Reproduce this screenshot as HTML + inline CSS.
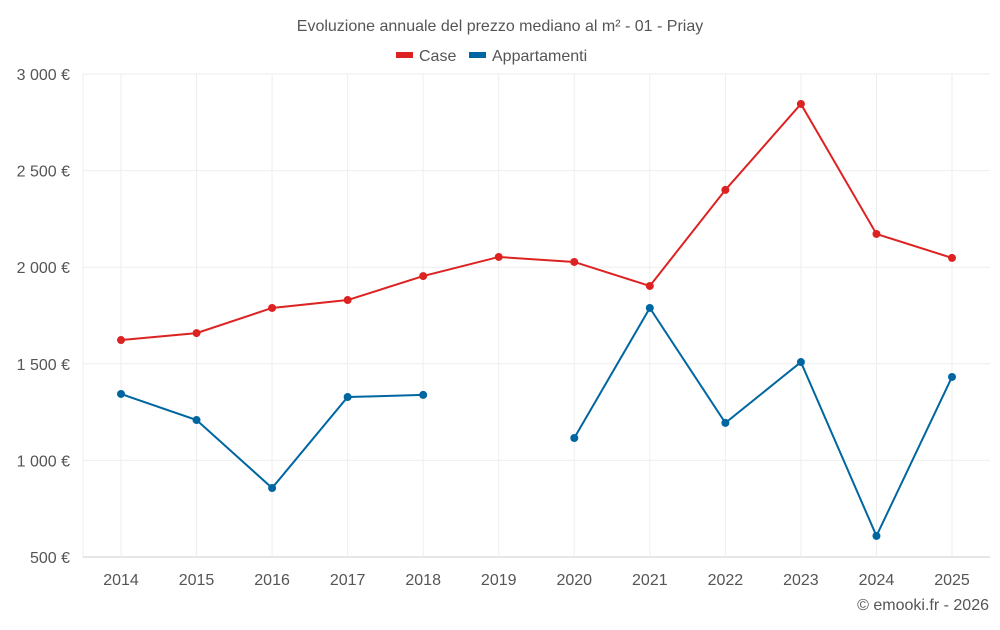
<!DOCTYPE html>
<html><head><meta charset="utf-8"><style>
body{margin:0;background:#fff;font-family:"Liberation Sans",sans-serif}
svg text{font-family:"Liberation Sans",sans-serif}
</style></head><body>
<svg id="chart" width="1000" height="625">
<text x="500" y="31" text-anchor="middle" font-size="16" fill="#555">Evoluzione annuale del prezzo mediano al m² - 01 - Priay</text>
<g><rect x="396" y="52" width="17" height="6" fill="#dd2222"/><text x="419" y="61" font-size="16" fill="#555">Case</text></g>
<g><rect x="469" y="52" width="17" height="6" fill="#0066a1"/><text x="492" y="61" font-size="16" fill="#555">Appartamenti</text></g>
<g id="grid"></g><g id="axes"></g><g id="series"></g>
<text x="989" y="610" text-anchor="end" font-size="16" fill="#555">© emooki.fr - 2026</text>
</svg>
<script>
const years=[2014,2015,2016,2017,2018,2019,2020,2021,2022,2023,2024,2025];
const caseVals=[1623,1659,1789,1830,1954,2053,2027,1903,2400,2845,2172,2048];
const apptVals=[1344,1209,857,1328,1339,null,1116,1789,1194,1509,609,1432];
const yTicks=[500,1000,1500,2000,2500,3000];
const yLabels=["500 €","1 000 €","1 500 €","2 000 €","2 500 €","3 000 €"];
const L=83,R=990,T=74,B=557,yMin=500,yMax=3000;
const NS="http://www.w3.org/2000/svg";
const x=i=>121+i*(952-121)/(years.length-1);
const y=v=>B-(v-yMin)/(yMax-yMin)*(B-T);
function mk(t,a,p){const e=document.createElementNS(NS,t);for(const k in a)e.setAttribute(k,a[k]);p.appendChild(e);return e;}
const grid=document.getElementById('grid'),axes=document.getElementById('axes'),ser=document.getElementById('series');
mk('line',{x1:L,x2:L,y1:T,y2:B,stroke:'#eee'},grid);
yTicks.forEach((v,i)=>{
 const g=mk('line',{x1:L,x2:R,y1:y(v),y2:y(v),stroke:i===0?'#ccc':'#eee'},grid);
 
 
 const t=mk('text',{x:70,y:y(v)+6,'text-anchor':'end','font-size':16,fill:'#555'},axes);
 t.textContent=yLabels[i];
 
 
});
years.forEach((yr,i)=>{
 const g=mk('line',{x1:x(i),x2:x(i),y1:T,y2:B,stroke:'#eee'},grid);
 
 
 const t=mk('text',{x:x(i),y:585,'text-anchor':'middle','font-size':16,fill:'#555'},axes);
 t.textContent=yr;
 
 
});
function draw(vals,color,name){
 let d='',pen=false;
 vals.forEach((v,i)=>{if(v==null){pen=false;return;}d+=(pen?'L':'M')+x(i)+' '+y(v)+' ';pen=true;});
 const p=mk('path',{d:d,fill:'none',stroke:color,'stroke-width':2},ser);
 
 
 vals.forEach((v,i)=>{if(v==null)return;
  const c=mk('circle',{cx:x(i),cy:y(v),r:4,fill:color},ser);
  
  
 });
}
draw(caseVals,'#dd2222','case');
draw(apptVals,'#0066a1','appartamenti');
</script>
</body></html>
